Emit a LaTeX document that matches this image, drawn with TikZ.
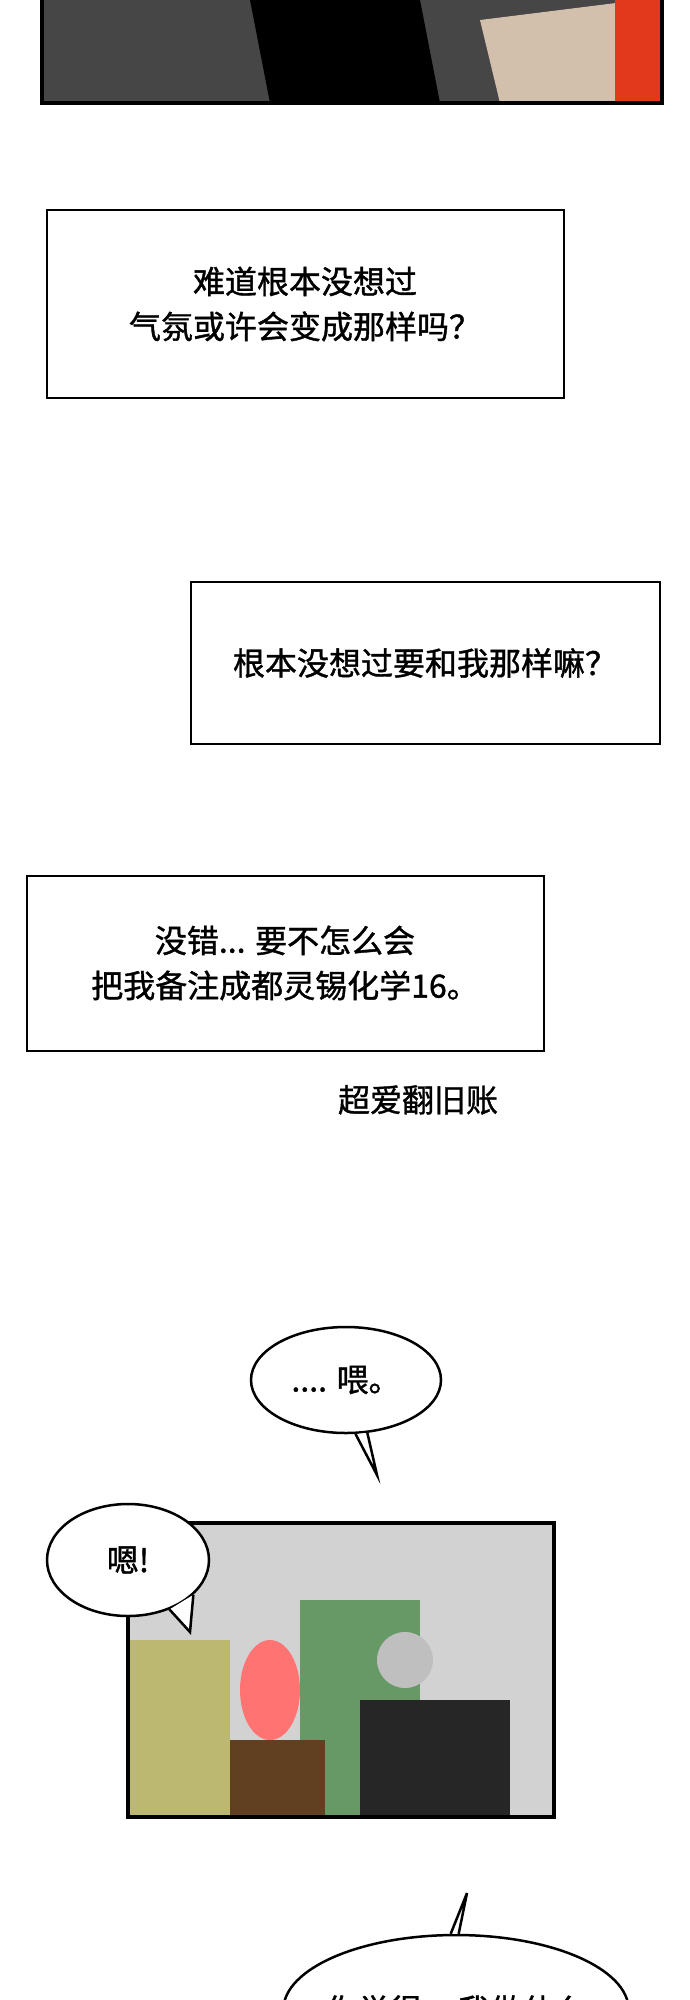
\documentclass[tikz,border=0pt]{standalone}
\usepackage{fontspec}
\setmainfont{Noto Sans CJK SC}[RawFeature={embolden=1.2}]
\usetikzlibrary{positioning,shapes.geometric}
\tikzset{every node/.style={font=\fontsize{32}{45}\selectfont}}
\tikzset{caption/.style={draw=black, line width=2pt, fill=white, align=center}}
\tikzset{bubble/.style={draw=black, line width=2.5pt, fill=white}}
\tikzset{frame/.style={draw=black, line width=4pt}}
\begin{document}
\begin{tikzpicture}[x=1pt, y=-1pt]
  \useasboundingbox (0,0) rectangle (690,2000);

  % top panel
  \fill[gray!55!black] (42,0) rectangle (662,103);
  \fill[black] (250,0) -- (420,0) -- (440,103) -- (270,103) -- cycle;
  \fill[gray!40!brown!50] (480,20) -- (640,0) -- (660,103) -- (500,103) -- cycle;
  \fill[red!55!brown] (615,0) rectangle (660,103);
  \draw[frame] (42,-5) -- (42,103) -- (662,103) -- (662,-5);

  % captions
  \node[caption, minimum width=517, minimum height=188] (c1) at (305,304) {难道根本没想过\\气氛或许会变成那样吗？};
  \node[caption, minimum width=469, minimum height=162] (c2) at (425,663) {根本没想过要和我那样嘛？};
  \node[caption, minimum width=517, minimum height=175] (c3) at (285,963) {没错... 要不怎么会\\把我备注成都灵锡化学16。};
  \node[below right=30pt and -210pt of c3] (note) {超爱翻旧账};

  % bottom panel
  \fill[gray!35] (128,1523) rectangle (554,1817);
  \fill[yellow!40!gray] (128,1640) rectangle (230,1817);
  \fill[green!20!gray] (300,1600) rectangle (420,1817);
  \fill[brown!50!black] (230,1740) rectangle (325,1817);
  \fill[red!55!white] (270,1690) ellipse (30 and 50);
  \fill[black!85] (360,1700) rectangle (510,1817);
  \fill[gray!50] (405,1660) circle (28);
  \draw[frame] (128,1523) rectangle (554,1817);

  % speech bubbles
  \node[bubble, ellipse, minimum width=190, minimum height=106] (b1) at (346,1380) {.... 喂。};
  \coordinate (t1) at (377,1475);
  \fill[white] (b1.-80) -- (t1) -- (b1.-68) -- cycle;
  \draw[line width=2.5pt] (b1.-80) -- (t1) -- (b1.-68);
  \node[bubble, ellipse, minimum width=162, minimum height=112] (b2) at (128,1560) {嗯!};
  \coordinate (t2) at (190,1632);
  \fill[white] (b2.-50) -- (t2) -- (b2.-28) -- cycle;
  \draw[line width=2.5pt] (b2.-50) -- (t2) -- (b2.-28);
  \node[bubble, ellipse, inner xsep=-8pt, minimum width=300, minimum height=150] (b3) at (456,2010) {你觉得... 我做什么};
  \coordinate (t3) at (467,1893);
  \fill[white] (b3.94) -- (t3) -- (b3.88) -- cycle;
  \draw[line width=2.5pt] (b3.94) -- (t3) -- (b3.88);
\end{tikzpicture}
\end{document}
